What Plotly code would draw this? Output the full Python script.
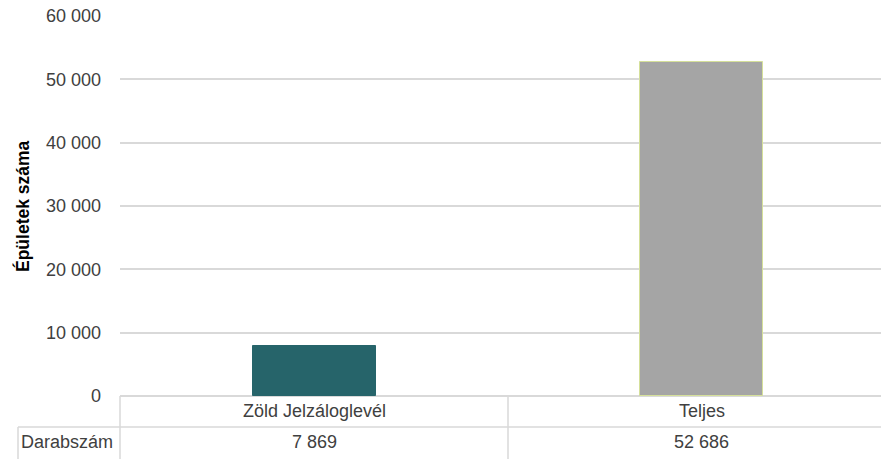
import plotly.graph_objects as go

categories = ["Zöld Jelzáloglevél", "Teljes"]
values = [7869, 52686]
row_label = "Darabszám"
y_title = "Épületek száma"
y_ticks = [0, 10000, 20000, 30000, 40000, 50000, 60000]

bar_colors = ["#26646A", "#A5A5A5"]
bar_lines = ["#26646A", "#D5E09A"]
FONT = "Liberation Sans, Arial, sans-serif"
TXT = "#404040"
GRID = "#D9D9D9"

def fmt(v):
    return f"{v:,}".replace(",", " ")

W, H = 881, 459
PL, PR, PT, PB = 120, 881, 16, 396
L, T = PL, PT
R = W - PR
B = H - PB
pw = PR - PL
ph = PB - PT
cat_px = 387.0
x0 = -194.5 / cat_px
x1 = x0 + pw / cat_px

fig = go.Figure()
fig.add_trace(go.Bar(
    x=list(range(len(categories))), y=values,
    width=0.318,
    marker=dict(color=bar_colors, line=dict(color=bar_lines, width=1)),
    showlegend=False, hoverinfo="y",
))

def py(pix):
    return (PB - pix) / ph

def px(pix):
    return (pix - PL) / pw

FS = 18
annotations = []
for i, (c, v) in enumerate(zip(categories, values)):
    annotations.append(dict(x=i, y=py(411), xref="x", yref="paper", text=c,
                            showarrow=False, xanchor="center", yanchor="middle",
                            font=dict(family=FONT, size=FS, color=TXT)))
    annotations.append(dict(x=i, y=py(442), xref="x", yref="paper", text=fmt(v),
                            showarrow=False, xanchor="center", yanchor="middle",
                            font=dict(family=FONT, size=FS, color=TXT)))
annotations.append(dict(x=px(67), y=py(442), xref="paper", yref="paper", text=row_label,
                        showarrow=False, xanchor="center", yanchor="middle",
                        font=dict(family=FONT, size=FS, color=TXT)))
annotations.append(dict(x=px(22), y=0.5, xref="paper", yref="paper", text=f"<b>{y_title}</b>",
                        textangle=-90, showarrow=False, xanchor="center", yanchor="middle",
                        font=dict(family=FONT, size=17.5, color="#000000")))

lw = dict(color=GRID, width=1.5)
shapes = [
    dict(type="line", xref="paper", yref="paper", x0=0, x1=0, y0=0, y1=py(H), line=lw),
    dict(type="line", xref="x", yref="paper", x0=0.5, x1=0.5, y0=0, y1=py(H), line=lw),
    dict(type="line", xref="paper", yref="paper", x0=px(18), x1=1, y0=py(427), y1=py(427), line=lw),
    dict(type="line", xref="paper", yref="paper", x0=px(18), x1=px(18), y0=py(427), y1=py(H), line=lw),
]

fig.update_layout(
    width=W, height=H,
    margin=dict(l=L, r=R, t=T, b=B, pad=0),
    paper_bgcolor="white", plot_bgcolor="white",
    font=dict(family=FONT, size=FS, color=TXT),
    separators=". ",
    xaxis=dict(range=[x0, x1], showticklabels=False, showgrid=False, zeroline=False,
               showline=False, fixedrange=True),
    yaxis=dict(range=[0, 60000], tickvals=y_ticks, ticktext=[fmt(t) for t in y_ticks],
               showgrid=True, gridcolor=GRID, gridwidth=1.5,
               zeroline=True, zerolinecolor=GRID, zerolinewidth=1.5,
               showline=False, ticks="", ticklabelstandoff=18,
               tickfont=dict(family=FONT, size=FS, color=TXT)),
    annotations=annotations,
    shapes=shapes,
    bargap=0,
)

fig.write_html("out.html",
               config={"displayModeBar": False},
               post_script="document.body.style.margin='0';document.body.style.overflow='hidden';")
